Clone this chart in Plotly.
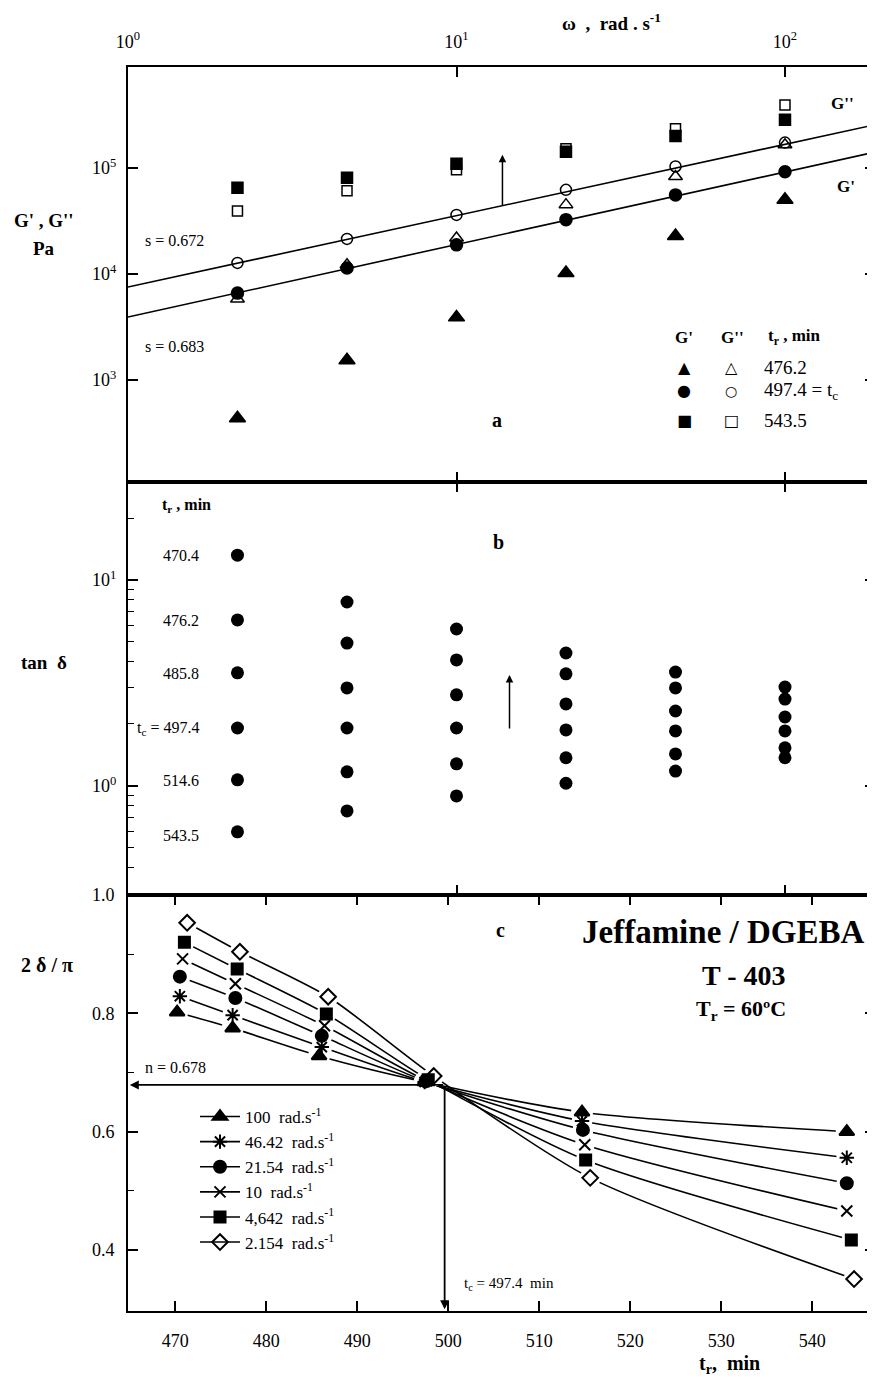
import numpy as np
import plotly.graph_objects as go

# ---------------- data ----------------
omega = [2.154, 4.642, 10, 21.54, 46.42, 100]

# panel a : G', G'' (Pa) for three reaction times
Gp_476 = [437, 1540, 3900, 10200, 22800, 50000]
Gpp_476 = [5800, 12200, 21800, 45000, 83000, 165000]
Gp_497 = [6600, 11400, 18800, 32500, 55600, 92000]
Gpp_497 = [12700, 21400, 36000, 62000, 103000, 173000]
Gp_543 = [65000, 80500, 109000, 142000, 200000, 284000]
Gpp_543 = [39300, 60700, 96000, 151000, 233000, 390000]

fit_amp = [7540, 3930]        # G'', G' power law at gel point
fit_slope = [0.672, 0.683]
fit_omega = [1, 200]

# panel b : tan delta, one row per reaction time
tr_labels = ["470.4", "476.2", "485.8", "t<sub>c</sub> = 497.4", "514.6", "543.5"]
tan_delta = [
    [13.2, 7.82, 5.78, 4.42, 3.57, 3.02],
    [6.4, 4.94, 4.09, 3.5, 2.99, 2.64],
    [3.54, 2.99, 2.77, 2.50, 2.31, 2.16],
    [1.91, 1.91, 1.91, 1.87, 1.85, 1.85],
    [1.07, 1.17, 1.28, 1.37, 1.43, 1.53],
    [0.598, 0.756, 0.894, 1.03, 1.18, 1.37],
]

# panel c : 2 delta / pi versus reaction time
freq_labels = ["100", "46.42", "21.54", "10", "4,642", "2.154"]
tr_100 = [470.2, 476.3, 485.8, 497.4, 514.7, 543.8]
v_100 = [0.802, 0.775, 0.728, 0.684, 0.633, 0.600]
tr_46 = [470.5, 476.3, 486.1, 497.4, 514.7, 543.8]
v_46 = [0.829, 0.797, 0.743, 0.684, 0.618, 0.556]
tr_21 = [470.5, 476.6, 486.1, 497.5, 514.8, 543.8]
v_21 = [0.862, 0.826, 0.762, 0.685, 0.603, 0.513]
tr_10 = [470.8, 476.6, 486.4, 497.6, 515.0, 543.8]
v_10 = [0.892, 0.850, 0.779, 0.686, 0.578, 0.466]
tr_4 = [471.0, 476.8, 486.6, 497.8, 515.1, 544.3]
v_4 = [0.920, 0.875, 0.799, 0.688, 0.552, 0.417]
tr_2 = [471.3, 477.1, 486.8, 498.4, 515.6, 544.6]
v_2 = [0.953, 0.904, 0.828, 0.694, 0.522, 0.351]

n_value = 0.678
tc_value = 499.6

# ---------------- layout helpers ----------------
PAGE_W, PAGE_H = 875, 1385
OFF = 8                      # default page body margin
W, H = PAGE_W - OFF, PAGE_H - OFF
L, R, T, B = 128, 875, 67, 1311   # plot area in page pixels
def px(x):
    return (x - L) / (R - L)
def py(y):
    return (B - y) / (B - T)

SERIF = "Liberation Serif, Times New Roman, serif"
SYM = "DejaVu Sans"

fig = go.Figure()

# ---- panel a ----
def add_a(y, sym, size, lw=1.5):
    fig.add_trace(go.Scatter(x=omega, y=y, mode="markers", xaxis="x", yaxis="y",
                             marker=dict(symbol=sym, size=size, color="black",
                                         line=dict(color="black", width=lw)),
                             showlegend=False, cliponaxis=False))

fo = np.array(fit_omega, dtype=float)
for amp, s in zip(fit_amp, fit_slope):
    fig.add_trace(go.Scatter(x=fo, y=amp * fo ** s, mode="lines", xaxis="x", yaxis="y",
                             line=dict(color="black", width=1.6), showlegend=False))
add_a(Gp_476, "triangle-up", 14)
add_a(Gpp_476, "triangle-up-open", 12)
add_a(Gp_497, "circle", 12)
add_a(Gpp_497, "circle-open", 11)
add_a(Gp_543, "square", 11)
add_a(Gpp_543, "square-open", 10)

# ---- panel b ----
for row in tan_delta:
    fig.add_trace(go.Scatter(x=omega, y=row, mode="markers", xaxis="x2", yaxis="y2",
                             marker=dict(symbol="circle", size=13, color="black"),
                             showlegend=False))

# ---- panel c ----
series_c = [
    (tr_100, v_100, "triangle-up", 13),
    (tr_46, v_46, "asterisk-open", 12),
    (tr_21, v_21, "circle", 12),
    (tr_10, v_10, "x-thin-open", 11),
    (tr_4, v_4, "square", 11),
    (tr_2, v_2, "diamond-open", 12),
]
for (xs, ys, sym, sz), lab in zip(series_c, freq_labels):
    fig.add_trace(go.Scatter(x=xs, y=ys, mode="lines+markers", xaxis="x3", yaxis="y3",
                             line=dict(color="black", width=1.6, shape="spline", smoothing=0.7),
                             marker=dict(symbol=sym, size=sz, color="black",
                                         line=dict(color="black", width=2)),
                             name=lab + "  rad.s<sup>-1</sup>", showlegend=True))
for xs, ys, sym, sz in series_c:
    fig.add_trace(go.Scatter(x=xs, y=ys, mode="markers", xaxis="x3", yaxis="y3",
                             marker=dict(symbol="circle", size=sz + 9, color="white"),
                             showlegend=False, hoverinfo="skip"))
for xs, ys, sym, sz in series_c:
    fig.add_trace(go.Scatter(x=xs, y=ys, mode="markers", xaxis="x3", yaxis="y3",
                             marker=dict(symbol=sym, size=sz, color="black",
                                         line=dict(color="black", width=2)),
                             showlegend=False))

# ---------------- axes ----------------
dom_c = [0, py(895)]
dom_b = [py(895), py(482)]
dom_a = [py(482), 1]
axis_common = dict(showline=True, linecolor="black", linewidth=2, mirror="ticks",
                   ticks="inside", ticklen=10, tickwidth=1.5, tickcolor="black",
                   showgrid=False, zeroline=False, automargin=False,
                   tickfont=dict(family=SERIF, size=18, color="black"))

fig.update_layout(
    xaxis=dict(axis_common, type="log", range=[0, 2.274], domain=[0, 1], anchor="y",
               side="top", tickvals=[1, 10, 100],
               ticktext=["10<sup>0</sup>", "10<sup>1</sup>", "10<sup>2</sup>"],
               ticklabelstandoff=10),
    yaxis=dict(axis_common, type="log", range=[2.04, 5.95], domain=dom_a, anchor="x",
               tickvals=[1e3, 1e4, 1e5],
               ticktext=["10<sup>3</sup>", "10<sup>4</sup>", "10<sup>5</sup>"],
               ticklabelstandoff=6),
    xaxis2=dict(axis_common, type="log", range=[0, 2.274], domain=[0, 1], anchor="y2",
                matches="x", tickvals=[1, 10, 100], showticklabels=False),
    yaxis2=dict(axis_common, type="log", range=[-0.53, 1.476], domain=dom_b, anchor="x2",
                tickvals=[1, 10], ticktext=["10<sup>0</sup>", "10<sup>1</sup>"],
                ticklabelstandoff=6,
                minor=dict(ticks="inside", ticklen=6, tickwidth=1.2, tickcolor="black",
                           tickvals=[0.3, 0.4, 0.5, 0.6, 0.7, 0.8, 0.9, 2, 3, 4, 5, 6, 7, 8, 9, 20, 30],
                           showgrid=False)),
    xaxis3=dict(axis_common, range=[464.8, 546.9], domain=[0, 1], anchor="y3",
                tickvals=[470, 480, 490, 500, 510, 520, 530, 540], ticklabelstandoff=12),
    yaxis3=dict(axis_common, range=[0.297, 1.0], domain=dom_c, anchor="x3",
                tickvals=[0.4, 0.6, 0.8, 1.0], ticktext=["0.4", "0.6", "0.8", "1.0"],
                ticklabelstandoff=8,
                minor=dict(ticks="inside", ticklen=6, tickwidth=1.2, tickcolor="black",
                           tickvals=[0.5, 0.7, 0.9], showgrid=False)),
)

# ---------------- text ----------------
anns = []
def ann(x, y, text, size=14, bold=False, xanchor="center", font=SERIF):
    if bold:
        text = "<b>" + text + "</b>"
    anns.append(dict(x=px(x), y=py(y), xref="paper", yref="paper", text=text,
                     showarrow=False, xanchor=xanchor, yanchor="middle",
                     font=dict(family=font, size=size, color="black")))

# top axis title
ann(611, 22, "ω  ,  rad . s<sup>-1</sup>", 19, True)
# panel a
ann(44, 220, "G' , G''", 19, True)
ann(44, 249, "Pa", 19, True)
ann(842, 103, "G''", 17, True)
ann(846, 186, "G'", 17, True)
ann(143, 240, "s = 0.672", 16, False, "left")
ann(143, 347, "s = 0.683", 16, False, "left")
ann(497, 420, "a", 20, True)
ann(684, 337, "G'", 17, True)
ann(732, 337, "G''", 17, True)
ann(766, 337, "t<sub>r</sub> , min", 17, True, "left")
ann(684, 367, "▲", 16, font=SYM)
ann(731, 367, "△", 16, font=SYM)
ann(684, 391, "●", 16, font=SYM)
ann(731, 391, "○", 14, font=SYM)
ann(684, 420, "■", 16, font=SYM)
ann(731, 420, "□", 16, font=SYM)
ann(762, 367, "476.2", 19, False, "left")
ann(762, 391, "497.4 = t<sub>c</sub>", 19, False, "left")
ann(762, 420, "543.5", 19, False, "left")
# panel b
ann(44, 662, "tan&nbsp;&nbsp;δ", 19, True)
ann(160, 505, "t<sub>r</sub> , min", 16, True, "left")
for lab, yy in zip(tr_labels, [555, 620, 673, 728, 781, 835]):
    ann(201, yy, lab, 16, False, "right")
ann(498, 542, "b", 20, True)
# panel c
ann(47, 965, "2 δ / π", 20, True)
ann(500, 930, "c", 20, True)
ann(723, 932, "Jeffamine / DGEBA", 33, True)
ann(744, 975, "T - 403", 28, True)
ann(741, 1010, "T<sub>r</sub> = 60ºC", 22, True)
ann(143, 1067, "n = " + str(n_value), 16, False, "left")
ann(462, 1284, "t<sub>c</sub> = 497.4  min", 15, False, "left")
# bottom axis title
ann(729, 1365, "t<sub>r</sub>,  min", 20, True)

# arrows
anns.append(dict(x=np.log10(13.8), y=np.log10(133000), ax=np.log10(13.8), ay=np.log10(42800),
                 xref="x", yref="y", axref="x", ayref="y", text="", showarrow=True,
                 arrowhead=2, arrowsize=1, arrowwidth=1.5, arrowcolor="black"))
anns.append(dict(x=np.log10(14.5), y=0.539, ax=np.log10(14.5), ay=0.272,
                 xref="x2", yref="y2", axref="x2", ayref="y2", text="", showarrow=True,
                 arrowhead=2, arrowsize=1, arrowwidth=1.5, arrowcolor="black"))
anns.append(dict(x=465.0, y=n_value + 0.001, ax=tc_value, ay=n_value + 0.001,
                 xref="x3", yref="y3", axref="x3", ayref="y3", text="", showarrow=True,
                 arrowhead=2, arrowsize=1, arrowwidth=1.8, arrowcolor="black"))
anns.append(dict(x=tc_value, y=0.30, ax=tc_value, ay=n_value + 0.001,
                 xref="x3", yref="y3", axref="x3", ayref="y3", text="", showarrow=True,
                 arrowhead=2, arrowsize=1, arrowwidth=1.8, arrowcolor="black"))

fig.update_layout(
    width=W, height=H,
    margin=dict(l=L - OFF, r=PAGE_W - R, t=T - OFF, b=PAGE_H - B, autoexpand=False),
    paper_bgcolor="white", plot_bgcolor="white",
    annotations=anns,
    showlegend=True,
    legend=dict(x=px(195), y=py(1099), xanchor="left", yanchor="top",
                bgcolor="rgba(0,0,0,0)", borderwidth=0, itemwidth=40,
                font=dict(family=SERIF, size=17, color="black"), tracegroupgap=0),
)

fig.write_html("out.html")
